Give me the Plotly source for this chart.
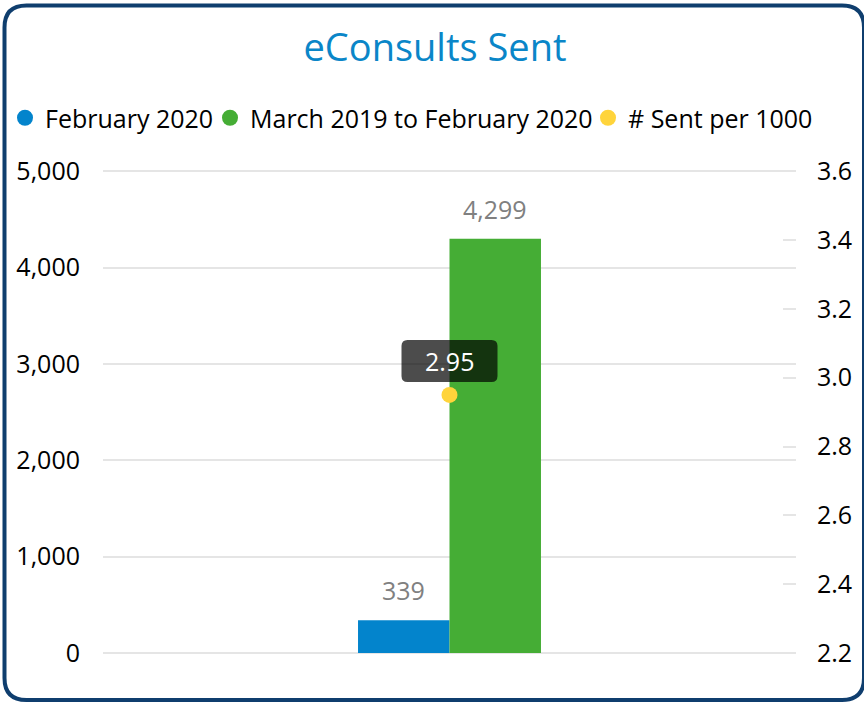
import plotly.graph_objects as go

categories = ["eConsults"]
feb_2020 = [339]
mar19_feb20 = [4299]
sent_per_1000 = [2.95]
series_names = ["February 2020", "March 2019 to February 2020", "# Sent per 1000"]
left_ticks = [0, 1000, 2000, 3000, 4000, 5000]
right_ticks = [2.2, 2.4, 2.6, 2.8, 3.0, 3.2, 3.4, 3.6]

BLUE = "#0384cc"
GREEN = "#45ad35"
YELLOW = "#ffd43b"
FONT = "Open Sans"
FS = 25

W, H = 864, 703
# nominal plot box (pixels): x 103..797, y 169..653 ; pad so edge gridlines are drawn
PAD = 3
ML, MR, MT, MB = 103, 67, 169 - PAD, 50 - PAD
PW = W - ML - MR
PH = 484
L0, L1 = left_ticks[0], left_ticks[-1]
R0, R1 = right_ticks[0], right_ticks[-1]
lpad = (L1 - L0) / PH * PAD
rpad = (R1 - R0) / PH * PAD
BARGAP = 0.736
BAR_PX = PW * (1 - BARGAP) / 2  # width of one bar in pixels

fig = go.Figure()
fig.add_trace(go.Bar(x=categories, y=feb_2020, name=series_names[0], marker_color=BLUE,
                     marker_line_width=0, showlegend=False))
fig.add_trace(go.Bar(x=categories, y=mar19_feb20, name=series_names[1], marker_color=GREEN,
                     marker_line_width=0, showlegend=False))
fig.add_trace(go.Scatter(x=categories, y=sent_per_1000, name=series_names[2], yaxis="y2",
                         mode="markers", marker=dict(color=YELLOW, size=16),
                         showlegend=False, cliponaxis=False))

# bar value labels
for vals, dx in [(feb_2020, -BAR_PX / 2), (mar19_feb20, BAR_PX / 2)]:
    for c, v in zip(categories, vals):
        fig.add_annotation(x=c, y=v, yref="y", xshift=dx, yshift=30, text=f"{v:,}",
                           showarrow=False, yanchor="middle",
                           font=dict(color="#808080", size=FS, family=FONT))

# legend proxies with circle symbols, one legend box per entry
legend_ids = ["legend", "legend2", "legend3"]
legend_x = [5, 210, 588]
for nm, col, lid in zip(series_names, [BLUE, GREEN, YELLOW], legend_ids):
    fig.add_trace(go.Scatter(x=[None], y=[None], name=nm, mode="markers", legend=lid,
                             marker=dict(color=col, size=20, symbol="circle")))

# label box for the point
fig.add_shape(type="path", xref="x", yref="y2", xsizemode="pixel", ysizemode="pixel",
              xanchor=categories[0], yanchor=sent_per_1000[0],
              path="M -42 13 L 42 13 Q 48 13 48 19 L 48 49 Q 48 55 42 55 L -42 55 Q -48 55 -48 49 L -48 19 Q -48 13 -42 13 Z",
              fillcolor="rgba(0,0,0,0.7)", line=dict(width=0), layer="above")
fig.add_annotation(x=categories[0], y=sent_per_1000[0], yref="y2", yshift=34,
                   text=f"{sent_per_1000[0]:.2f}", showarrow=False,
                   font=dict(color="white", size=FS, family=FONT))

# rounded border around the whole chart
x0, x1 = 4.5 - ML, 864 - ML
y0, y1 = (H - MB) - 700, (H - MB) - 5.5
r = 22
border = (f"M {x0+r} {y1} L {x1-r} {y1} Q {x1} {y1} {x1} {y1-r} L {x1} {y0+r} "
          f"Q {x1} {y0} {x1-r} {y0} L {x0+r} {y0} Q {x0} {y0} {x0} {y0+r} "
          f"L {x0} {y1-r} Q {x0} {y1} {x0+r} {y1} Z")
fig.add_shape(type="path", xref="paper", yref="paper", xsizemode="pixel", ysizemode="pixel",
              xanchor=0, yanchor=0, path=border, line=dict(color="#0f3e6e", width=4),
              layer="above")

legend_common = dict(orientation="h", xref="container", yref="container", xanchor="left",
                     y=1 - 118 / H, yanchor="middle",
                     font=dict(family=FONT, size=FS, color="#000"),
                     itemwidth=30, itemsizing="trace", bgcolor="rgba(0,0,0,0)")

fig.update_layout(
    width=W, height=H,
    margin=dict(l=ML, r=MR, t=MT, b=MB, pad=0),
    paper_bgcolor="white", plot_bgcolor="white",
    font=dict(family=FONT, size=FS, color="#000000"),
    title=dict(text="eConsults Sent", x=435 / W, xanchor="center", y=1 - 48 / H, yanchor="middle",
               xref="container", yref="container",
               font=dict(family=FONT, size=38, color="#0a86c8")),
    barmode="group", bargap=BARGAP, bargroupgap=0,
    showlegend=True,
    legend=dict(x=legend_x[0] / W, **legend_common),
    legend2=dict(x=legend_x[1] / W, **legend_common),
    legend3=dict(x=legend_x[2] / W, **legend_common),
    xaxis=dict(showticklabels=False, showgrid=False, zeroline=False, showline=False, ticks=""),
    yaxis=dict(range=[L0 - lpad, L1 + lpad], tickvals=left_ticks, tickformat=",", showgrid=True,
               gridcolor="#e5e5e5", gridwidth=2, zeroline=False, showline=False,
               ticks="", ticklabelstandoff=22, tickfont=dict(size=FS, family=FONT)),
    yaxis2=dict(range=[R0 - rpad, R1 + rpad], tickvals=right_ticks, tickformat=".1f", overlaying="y",
                side="right", showgrid=False, zeroline=False, showline=False,
                ticks="inside", ticklen=13, tickcolor="#e5e5e5", tickwidth=2,
                ticklabelstandoff=20, tickfont=dict(size=FS, family=FONT)),
)

fig.write_html("out.html", config={"displayModeBar": False},
               post_script="document.body.style.margin='0';")
